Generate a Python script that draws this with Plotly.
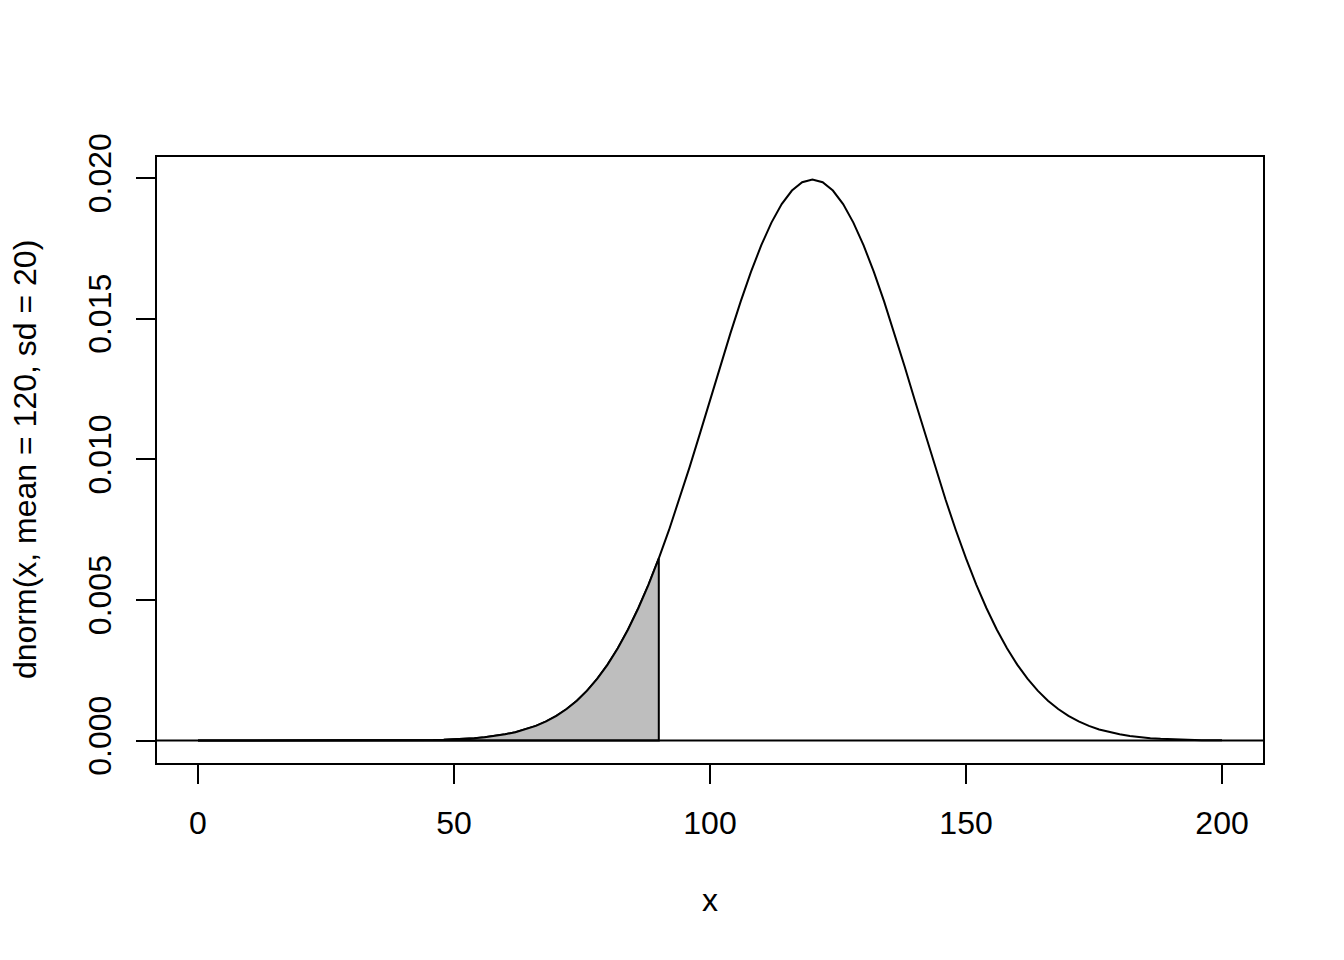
import plotly.graph_objects as go

# x grid used by curve(): 0..200 step 2
x_vals = list(range(0, 201, 2))
# density values (mean 120, sd 20)
dens_vals = [
    0.0, 0.0, 0.0, 0.0, 0.0, 0.0, 0.0, 0.0, 0.0, 0.0000001,
    0.0000001, 0.0000001, 0.0000002, 0.0000003, 0.0000005, 0.0000008, 0.0000013, 0.0000019, 0.0000030, 0.0000045,
    0.0000067, 0.0000099, 0.0000146, 0.0000212, 0.0000306, 0.0000436, 0.0000616, 0.0000860, 0.0001190, 0.0001633,
    0.0002216, 0.0002978, 0.0003959, 0.0005210, 0.0006791, 0.0008764, 0.0011197, 0.0014165, 0.0017737, 0.0021992,
    0.0026995, 0.0032809, 0.0039475, 0.0047025, 0.0055459, 0.0064759, 0.0074864, 0.0085686, 0.0097093, 0.0108926,
    0.0120985, 0.0133043, 0.0144846, 0.0156127, 0.0166612, 0.0176033, 0.0184135, 0.0190696, 0.0195521, 0.0198476,
    0.0199471,
    0.0198476, 0.0195521, 0.0190696, 0.0184135, 0.0176033, 0.0166612, 0.0156127, 0.0144846, 0.0133043, 0.0120985,
    0.0108926, 0.0097093, 0.0085686, 0.0074864, 0.0064759, 0.0055459, 0.0047025, 0.0039475, 0.0032809, 0.0026995,
    0.0021992, 0.0017737, 0.0014165, 0.0011197, 0.0008764, 0.0006791, 0.0005210, 0.0003959, 0.0002978, 0.0002216,
    0.0001633, 0.0001190, 0.0000860, 0.0000616, 0.0000436, 0.0000306, 0.0000212, 0.0000146, 0.0000099, 0.0000067,
]
shade_upper = 90
x_ticks = [0, 50, 100, 150, 200]
y_ticks = [0.000, 0.005, 0.010, 0.015, 0.020]
y_tick_text = ["0.000", "0.005", "0.010", "0.015", "0.020"]

FONT = "Liberation Sans, Arial, Helvetica, sans-serif"

sx = [x for x in x_vals if x <= shade_upper]
sy = [y for x, y in zip(x_vals, dens_vals) if x <= shade_upper]
poly_x = [sx[0]] + sx + [shade_upper, sx[0]]
poly_y = [0] + sy + [0, 0]

fig = go.Figure()
fig.add_trace(go.Scatter(x=x_vals, y=dens_vals, mode="lines",
                         line=dict(color="black", width=2), hoverinfo="skip"))
fig.add_trace(go.Scatter(x=poly_x, y=poly_y, mode="lines", fill="toself",
                         fillcolor="#BEBEBE", line=dict(color="black", width=2),
                         hoverinfo="skip"))

fig.add_shape(type="line", xref="paper", yref="y", x0=0, x1=1, y0=0, y1=0,
              line=dict(color="black", width=2))

fig.add_annotation(text="x", xref="paper", yref="paper", x=0.5, y=-0.226,
                   showarrow=False, xanchor="center", yanchor="middle",
                   font=dict(family=FONT, size=32, color="black"))
fig.add_annotation(text="dnorm(x, mean = 120, sd = 20)", xref="paper", yref="paper",
                   x=-0.1193, y=0.5, textangle=-90, showarrow=False,
                   xanchor="center", yanchor="middle",
                   font=dict(family=FONT, size=32, color="black"))

axis_common = dict(showgrid=False, zeroline=False, showline=True, linecolor="black",
                   linewidth=2, mirror=True, ticks="outside", ticklen=19, tickwidth=2,
                   tickcolor="black", tickfont=dict(family=FONT, size=32, color="black"))

fig.update_layout(
    width=1344, height=960,
    margin=dict(l=149, r=89, t=149, b=205),
    paper_bgcolor="white", plot_bgcolor="white",
    showlegend=False,
    xaxis=dict(range=[-8, 208], tickvals=x_ticks, ticklabelstandoff=12, **axis_common),
    yaxis=dict(range=[-0.000798, 0.020745], tickvals=y_ticks, ticktext=y_tick_text,
               tickangle=-90, ticklabelstandoff=12, **axis_common),
)

fig.write_html("out.html")
